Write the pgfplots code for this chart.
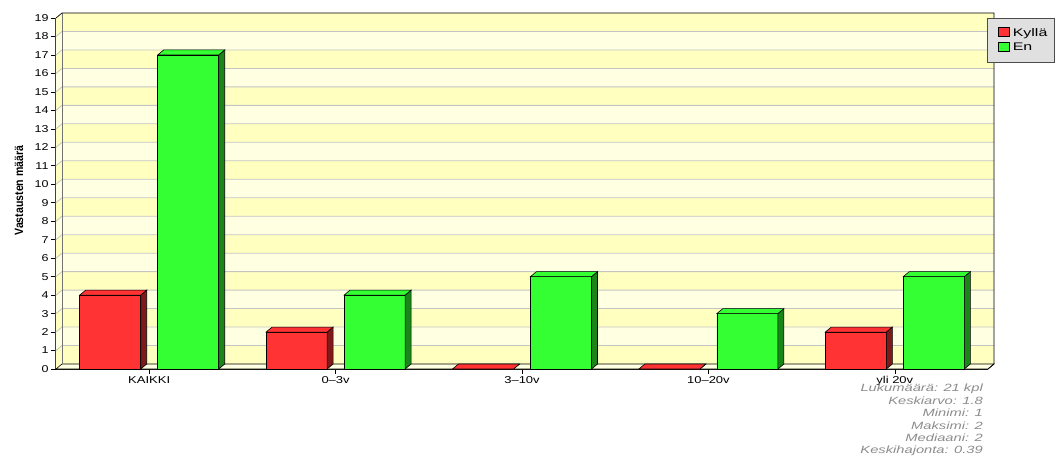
\documentclass[border=0pt]{standalone}
\usepackage{pgfplots}
\pgfplotsset{compat=1.18}
\usepackage{fontspec}
\setmainfont{Liberation Sans}
\newfontfamily\widetick[FakeStretch=1.25]{Liberation Sans}
\newfontfamily\widecat[FakeStretch=1.3]{Liberation Sans}
\newfontfamily\widestat[FakeStretch=1.4]{Liberation Sans}
\newfontfamily\wideleg[FakeStretch=1.45]{Liberation Sans}
\newfontfamily\narrowlab[FakeStretch=0.88]{Liberation Sans}
\definecolor{redc}{HTML}{FF3333}
\definecolor{redd}{HTML}{7F1A1A}
\definecolor{greenc}{HTML}{33FF33}
\definecolor{greend}{HTML}{1A861A}
\definecolor{yel}{HTML}{FFFFC0}
\definecolor{pale}{HTML}{FFFFE2}
\definecolor{gridc}{HTML}{C4C4C4}
\definecolor{legbg}{HTML}{E0E0E0}
\definecolor{statc}{HTML}{8C8C8C}
% 3D top and side faces of a bar, drawn at the data point
\pgfdeclareplotmark{redtop}{%
  \pgfmathsetmacro\hh{\rawy*351/19}%
  \pgfsetlinewidth{0.6pt}\pgfsetstrokecolor{black}%
  \pgfsetfillcolor{redd}%
  \pgfpathmoveto{\pgfpoint{-8.5pt}{0pt}}\pgfpathlineto{\pgfpoint{-2.5pt}{5pt}}%
  \pgfpathlineto{\pgfpoint{-2.5pt}{5pt-\hh pt}}\pgfpathlineto{\pgfpoint{-8.5pt}{-\hh pt}}\pgfpathclose
  \pgfusepath{fill,stroke}%
  \pgfsetfillcolor{redc}%
  \pgfpathmoveto{\pgfpoint{-69.5pt}{0pt}}\pgfpathlineto{\pgfpoint{-8.5pt}{0pt}}%
  \pgfpathlineto{\pgfpoint{-2.5pt}{5pt}}\pgfpathlineto{\pgfpoint{-63.5pt}{5pt}}\pgfpathclose
  \pgfusepath{fill,stroke}%
}
\pgfdeclareplotmark{greentop}{%
  \pgfmathsetmacro\hh{\rawy*351/19}%
  \pgfsetlinewidth{0.6pt}\pgfsetstrokecolor{black}%
  \pgfsetfillcolor{greend}%
  \pgfpathmoveto{\pgfpoint{69.5pt}{0pt}}\pgfpathlineto{\pgfpoint{75.5pt}{5pt}}%
  \pgfpathlineto{\pgfpoint{75.5pt}{5pt-\hh pt}}\pgfpathlineto{\pgfpoint{69.5pt}{-\hh pt}}\pgfpathclose
  \pgfusepath{fill,stroke}%
  \pgfsetfillcolor{greenc}%
  \pgfpathmoveto{\pgfpoint{8.5pt}{0pt}}\pgfpathlineto{\pgfpoint{69.5pt}{0pt}}%
  \pgfpathlineto{\pgfpoint{75.5pt}{5pt}}\pgfpathlineto{\pgfpoint{14.5pt}{5pt}}\pgfpathclose
  \pgfusepath{fill,stroke}%
}
\begin{document}
\begin{tikzpicture}
\path[use as bounding box] (0,0) rectangle (1060pt,456pt);
\begin{axis}[
  at={(56pt,87pt)}, anchor=south west,
  scale only axis, width=932pt, height=351pt,
  xmin=-0.5, xmax=4.5, ymin=0, ymax=19,
  clip=false,
  axis lines=left,
  axis line style={-, black, line width=0.8pt},
  x axis line style={black},
  y axis line style={black!75, line width=1.2pt},
  tick align=outside, major tick length=5pt,
  tick style={black, line width=0.6pt},
  ytick={0,...,19},
  xtick={0,...,4},
  xticklabels={KAIKKI,0–3v,3–10v,10–20v,yli 20v},
  /pgf/number format/assume math mode=true,
  yticklabel style={font=\widetick\fontsize{10}{12}\selectfont, xshift=1pt},
  xticklabel style={font=\widecat\fontsize{10}{12}\selectfont, yshift=1pt},
  ylabel={\bfseries Vastausten määrä},
  every axis y label/.style={at={(axis description cs:0,0.5)}, xshift=-37pt, yshift=3pt, rotate=90, anchor=center, font=\narrowlab\fontsize{12}{14}\selectfont},
  legend style={at={(1,1)}, anchor=north west, xshift=-1pt, fill=legbg, draw=black!70,
    font=\wideleg\fontsize{11}{12.5}\selectfont, inner xsep=5pt, inner ysep=8pt, row sep=1.5pt,
    legend cell align=left},
  legend image code/.code={\path (0pt,0pt) (18pt,0pt); \draw[draw=black, line width=0.6pt, #1] (6pt,-3.5pt) rectangle (17pt,5.5pt);},
]
% walls and floor
\fill[pale] ([shift={(6pt,5pt)}]axis cs:-0.5,0) rectangle ([shift={(6pt,5pt)}]axis cs:4.5,19);
\fill[pale] (axis cs:-0.5,0) -- ([shift={(6pt,5pt)}]axis cs:-0.5,0) -- ([shift={(6pt,5pt)}]axis cs:-0.5,19) -- (axis cs:-0.5,19) -- cycle;
\pgfplotsinvokeforeach{0,2,...,18}{
  \fill[yel] ([shift={(6pt,5pt)}]axis cs:-0.5,#1) rectangle ([shift={(6pt,5pt)}]axis cs:4.5,#1+1);
  \fill[yel] (axis cs:-0.5,#1) -- ([shift={(6pt,5pt)}]axis cs:-0.5,#1) -- ([shift={(6pt,5pt)}]axis cs:-0.5,#1+1) -- (axis cs:-0.5,#1+1) -- cycle;
}
\pgfplotsinvokeforeach{1,...,18}{
  \draw[gridc, line width=0.8pt] (axis cs:-0.5,#1) -- ([shift={(6pt,5pt)}]axis cs:-0.5,#1) -- ([shift={(6pt,5pt)}]axis cs:4.5,#1);
}
\fill[pale, draw=black, line width=0.6pt] (axis cs:-0.5,0) -- (axis cs:4.5,0) -- ([shift={(6pt,5pt)}]axis cs:4.5,0) -- ([shift={(6pt,5pt)}]axis cs:-0.5,0) -- cycle;
\draw[black!55, line width=0.8pt] ([shift={(6pt,5pt)}]axis cs:-0.5,0) -- ([shift={(6pt,5pt)}]axis cs:-0.5,19);
\draw[black, line width=0.7pt] (axis cs:-0.5,19) -- ([shift={(6pt,5pt)}]axis cs:-0.5,19) -- ([shift={(6pt,5pt)}]axis cs:4.5,19) -- ([shift={(6pt,5pt)}]axis cs:4.5,0) -- (axis cs:4.5,0);
% bars
\addplot[forget plot, only marks, mark=redtop, visualization depends on={rawy \as \rawy}]
  coordinates {(0,4) (1,2) (2,0) (3,0) (4,2)};
\addplot[ybar, bar width=61pt, bar shift=-39pt, fill=redc, draw=black, line width=0.6pt]
  coordinates {(0,4) (1,2) (2,0) (3,0) (4,2)};
\addlegendentry{Kyllä}
\addplot[forget plot, only marks, mark=greentop, visualization depends on={rawy \as \rawy}]
  coordinates {(0,17) (1,4) (2,5) (3,3) (4,5)};
\addplot[ybar, bar width=61pt, bar shift=39pt, fill=greenc, draw=black, line width=0.6pt]
  coordinates {(0,17) (1,4) (2,5) (3,3) (4,5)};
\addlegendentry{En}
\node[anchor=north east, align=right, inner sep=0pt, text=statc,
  font=\widestat\fontsize{10.5}{12.4}\selectfont\itshape]
  at ([xshift=-5pt, yshift=-15pt]axis cs:4.5,0)
  {Lukumäärä: 21 kpl\\Keskiarvo: 1.8\\Minimi: 1\\Maksimi: 2\\Mediaani: 2\\Keskihajonta: 0.39};
\end{axis}
\end{tikzpicture}
\end{document}
